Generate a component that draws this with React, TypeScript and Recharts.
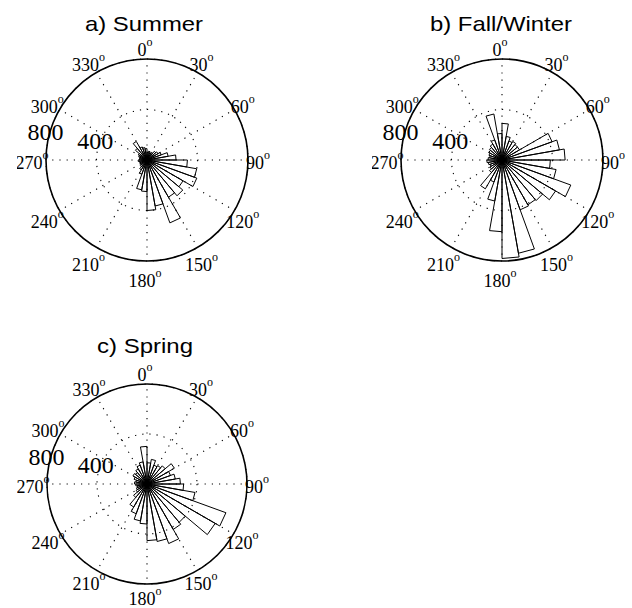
import React from 'react';
import {
  RadarChart,
  Radar,
  PolarGrid,
  PolarAngleAxis,
  PolarRadiusAxis,
  RadialBarChart,
  RadialBar,
} from 'recharts';

// Bin centres (degrees, clockwise from north), 10-degree bins
const BINS = [
  5, 15, 25, 35, 45, 55, 65, 75, 85, 95, 105, 115, 125, 135, 145, 155, 165, 175,
  185, 195, 205, 215, 225, 235, 245, 255, 265, 275, 285, 295, 305, 315, 325, 335, 345, 355,
];

const SUMMER = [
  60, 70, 60, 70, 90, 100, 120, 170, 230, 320, 400, 420, 330, 370, 340, 530, 370, 400,
  250, 240, 120, 90, 70, 60, 60, 60, 70, 60, 60, 70, 80, 120, 170, 110, 100, 90,
];

const FALL_WINTER = [
  290, 190, 160, 170, 160, 160, 422, 462, 500, 383, 435, 580, 490, 420, 410, 420, 750, 780,
  568, 330, 185, 264, 130, 110, 100, 110, 120, 110, 100, 110, 120, 130, 145, 170, 370, 210,
];

const SPRING = [
  170, 200, 160, 170, 190, 253, 200, 230, 267, 293, 390, 672, 630, 400, 420, 507, 467, 453,
  320, 300, 253, 213, 140, 100, 90, 80, 90, 100, 90, 110, 130, 120, 140, 160, 180, 301,
];

const ANGLE_LABELS = ['0', '30', '60', '90', '120', '150', '180', '210', '240', '270', '300', '330'];
const RADIUS_MAX = 800;

const TITLES = ['a) Summer', 'b) Fall/Winter', 'c) Spring'];

const SERIF = '"Liberation Serif", "Times New Roman", Times, serif';
const SANS = '"Liberation Sans", Arial, Helvetica, sans-serif';

const SIZE = 260;
const C = 130;

const Wedge = (p: any) => {
  const { cx, cy, outerRadius, startAngle, endAngle } = p;
  const rad = Math.PI / 180;
  const x1 = cx + outerRadius * Math.cos(-startAngle * rad);
  const y1 = cy + outerRadius * Math.sin(-startAngle * rad);
  const x2 = cx + outerRadius * Math.cos(-endAngle * rad);
  const y2 = cy + outerRadius * Math.sin(-endAngle * rad);
  return (
    <path
      d={`M${cx},${cy}L${x1},${y1}L${x2},${y2}Z`}
      fill="none"
      stroke="#000"
      strokeWidth={1}
      strokeLinejoin="miter"
    />
  );
};

const makeAngleTick = (drop: number) => (p: any) => {
  const { x, y, payload, index } = p;
  const compass = Number(ANGLE_LABELS[index] ?? payload.value) * (Math.PI / 180);
  const down = Math.max(0, -Math.cos(compass));
  return (
    <text
      x={x - 2}
      y={y + 3 + drop * down}
      textAnchor="middle"
      dominantBaseline="central"
      style={{ fontFamily: SERIF, fontSize: 18 }}
      fill="#000"
    >
      {payload.value}
      <tspan style={{ fontSize: 12 }} dy={-8}>
        o
      </tspan>
    </text>
  );
};

const RadiusTick = (p: any) => {
  const { x, y, payload } = p;
  if (!payload || payload.value === 0) return null;
  return (
    <text
      x={x - 2}
      y={y - 10}
      textAnchor="middle"
      dominantBaseline="central"
      style={{ fontFamily: SERIF, fontSize: 24 }}
      fill="#000"
    >
      {payload.value}
    </text>
  );
};

const gridRows = ANGLE_LABELS.map((label) => ({ label, z: 0 }));

function RosePanel({
  values,
  left,
  top,
  radius,
  drop,
}: {
  values: number[];
  left: number;
  top: number;
  radius: number;
  drop: number;
}) {
  const rows = BINS.map((bin, i) => ({ bin, v: values[i] }));
  const AngleTick = makeAngleTick(drop);
  return (
    <div style={{ position: 'absolute', left, top, width: SIZE, height: SIZE }}>
      <div style={{ position: 'absolute', left: 0, top: 0 }}>
        <RadarChart
          width={SIZE}
          height={SIZE}
          cx={C}
          cy={C}
          outerRadius={radius}
          startAngle={90}
          endAngle={-270}
          data={gridRows}
          margin={{ top: 0, right: 0, bottom: 0, left: 0 }}
        >
          <PolarGrid gridType="circle" stroke="#000" strokeDasharray="1.2 6" strokeWidth={1.1} />
          <PolarAngleAxis
            dataKey="label"
            tick={AngleTick}
            tickLine={false}
            tickSize={12}
            axisLineType="circle"
            axisLine={{ stroke: '#000', strokeWidth: 1.6 }}
          />
          <PolarRadiusAxis
            angle={170}
            type="number"
            domain={[0, RADIUS_MAX]}
            tickCount={3}
            axisLine={false}
            tickLine={false}
            tick={RadiusTick}
          />
          <Radar dataKey="z" stroke="none" fill="none" dot={false} isAnimationActive={false} />
        </RadarChart>
      </div>
      <div style={{ position: 'absolute', left: 0, top: 0 }}>
        <RadialBarChart
          width={SIZE}
          height={SIZE}
          cx={C}
          cy={C}
          innerRadius={0}
          outerRadius={radius}
          startAngle={80}
          endAngle={-280}
          layout="centric"
          barCategoryGap={0}
          barGap={0}
          data={rows}
          margin={{ top: 0, right: 0, bottom: 0, left: 0 }}
        >
          <PolarAngleAxis type="category" dataKey="bin" tick={false} tickLine={false} axisLine={false} />
          <PolarRadiusAxis type="number" domain={[0, RADIUS_MAX]} tick={false} axisLine={false} />
          <RadialBar dataKey="v" shape={Wedge} fill="none" stroke="#000" isAnimationActive={false} />
        </RadialBarChart>
      </div>
    </div>
  );
}

const titleStyle = { fontFamily: SANS, fontSize: 21 };

export default function App() {
  return (
    <div style={{ position: 'absolute', left: 0, top: 0, width: 632, height: 608, background: '#fff' }}>
      <svg width={632} height={608} style={{ position: 'absolute', left: 0, top: 0 }}>
        <text x={144} y={31} textAnchor="middle" style={titleStyle} fill="#000" textLength={118} lengthAdjust="spacingAndGlyphs">
          {TITLES[0]}
        </text>
        <text x={501} y={31} textAnchor="middle" style={titleStyle} fill="#000" textLength={142} lengthAdjust="spacingAndGlyphs">
          {TITLES[1]}
        </text>
        <text x={145} y={353} textAnchor="middle" style={titleStyle} fill="#000" textLength={96} lengthAdjust="spacingAndGlyphs">
          {TITLES[2]}
        </text>
      </svg>
      <RosePanel values={SUMMER} left={17} top={30} radius={101} drop={5} />
      <RosePanel values={FALL_WINTER} left={372} top={30} radius={101} drop={5} />
      <RosePanel values={SPRING} left={17} top={354} radius={100} drop={0} />
    </div>
  );
}
